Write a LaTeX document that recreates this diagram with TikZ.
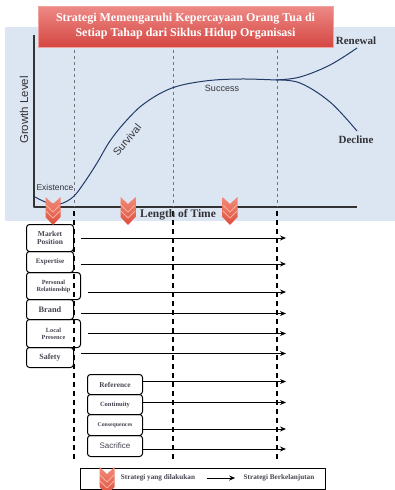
\documentclass[tikz,border=0pt]{standalone}
\usepackage{fontspec}
\setmainfont{Liberation Serif}
\setsansfont{Liberation Sans}
\usetikzlibrary{arrows.meta,shadows}
\definecolor{bgblue}{RGB}{220,230,242}
\definecolor{curveblue}{RGB}{33,58,102}
\definecolor{titletop}{RGB}{238,138,134}
\definecolor{titlebot}{RGB}{212,70,66}
\definecolor{chevtop}{RGB}{242,140,120}
\definecolor{chevbot}{RGB}{222,78,60}
\definecolor{chevline}{RGB}{248,176,158}
\definecolor{boxtext}{RGB}{68,68,80}
\definecolor{labeltext}{RGB}{50,50,55}
\tikzset{
  stratbox/.style={draw, line width=1pt, rounded corners=3pt, anchor=north west, align=center, inner sep=1pt, font=\bfseries, text=boxtext},
  contarrow/.style={-{Stealth[length=6pt,width=5pt]}, line width=1pt},
  stageline/.style={black!55, dashed, line width=0.7pt},
  stagecut/.style={black, line width=1.3pt, dash pattern=on 5pt off 4pt},
  chevmark/.pic={
    \shade[top color=chevtop, bottom color=chevbot] (-7.5,0) -- (0,7) -- (7.5,0) -- (7.5,20) -- (0,28) -- (-7.5,20) -- cycle;
    \draw[chevline, line width=0.9pt] (-7,8) -- (0,15) -- (7,8) (-7,14) -- (0,21) -- (7,14);
  }
}
\begin{document}
\begin{tikzpicture}[x=1pt, y=-1pt, line join=round, >=Stealth]
\useasboundingbox (0,0) rectangle (395,490);
% background of the life cycle chart
\fill[bgblue] (5,27) rectangle (395,221);
% axes
\coordinate (origin) at (34,207);
\coordinate (ytop) at (34,35);
\coordinate (xend) at (357,207);
\draw[black!80, line width=1.2pt] (ytop) -- (origin) -- (xend);
% stage borders
\coordinate (s1top) at (74,50);
\coordinate (s2top) at (173,50);
\coordinate (s3top) at (277,50);
\coordinate (s1bot) at (74,460);
\coordinate (s2bot) at (173,460);
\coordinate (s3bot) at (277,460);
\draw[stageline] (s1top) -- (s1top |- origin) (s2top) -- (s2top |- origin) (s3top) -- (s3top |- origin);
% growth curve
\draw[curveblue, line width=1pt] plot[smooth, tension=0.6] coordinates {(35,197) (48,203) (60,204) (73,197) (84,183) (97,163) (110,141) (126,121) (145,103) (172,88) (205,81) (240,79) (276,80)};
\draw[curveblue, line width=1pt] plot[smooth, tension=0.6] coordinates {(276,80) (300,77) (330,65) (357,48)};
\draw[curveblue, line width=1pt] plot[smooth, tension=0.6] coordinates {(276,80) (300,83) (330,102) (357,131)};
% labels of the chart
\node[font=\sffamily\fontsize{11.5}{12}\selectfont, text=labeltext, rotate=90] (growth) at (24,110) {Growth Level};
\node[font=\sffamily\fontsize{10.5}{11}\selectfont, text=labeltext, rotate=50] (survival) at (127,140) {Survival};
\node[font=\sffamily\fontsize{9}{10}\selectfont, text=labeltext] (success) at (222,88) {Success};
\node[font=\sffamily\fontsize{8.5}{9}\selectfont, text=labeltext, inner sep=0pt] (existence) at (55,187) {Existence};
\node[font=\bfseries\fontsize{11}{12}\selectfont, text=labeltext] (renewal) at (356,41) {Renewal};
\node[font=\bfseries\fontsize{11}{12}\selectfont, text=labeltext] (decline) at (356,140) {Decline};
% title
\node[draw=titletop!80, top color=titletop, bottom color=titlebot, drop shadow={opacity=0.25, shadow xshift=1pt, shadow yshift=-1pt}, minimum width=295pt, minimum height=41pt, align=center, text=white, font=\bfseries\fontsize{12}{15}\selectfont] (title) at (185.5,26.5) {Strategi Memengaruhi Kepercayaan Orang Tua di\\Setiap Tahap dari Siklus Hidup Organisasi};
% strategies
\node[stratbox, minimum width=47pt, minimum height=27pt, font=\bfseries\fontsize{7.5}{8.5}\selectfont] (mp) at (26,224) {Market\\Position};
\node[stratbox, minimum width=47pt, minimum height=21pt, font=\bfseries\fontsize{7}{8}\selectfont] (ex) at (26,251) {Expertise};
\node[stratbox, minimum width=54pt, minimum height=27pt, font=\bfseries\fontsize{6.3}{7}\selectfont] (pr) at (26,272) {Personal\\Relationship};
\node[stratbox, minimum width=47pt, minimum height=20pt, font=\bfseries\fontsize{8.3}{9}\selectfont] (br) at (26,299) {Brand};
\node[stratbox, minimum width=54pt, minimum height=28pt, font=\bfseries\fontsize{6.3}{7}\selectfont] (lp) at (26,319) {Local\\Presence};
\node[stratbox, minimum width=47pt, minimum height=20pt, font=\bfseries\fontsize{8}{9}\selectfont] (sf) at (26,347) {Safety};
\node[stratbox, minimum width=55pt, minimum height=20pt, font=\bfseries\fontsize{7.3}{8}\selectfont] (ref) at (87,374) {Reference};
\node[stratbox, minimum width=55pt, minimum height=20pt, font=\bfseries\fontsize{6.5}{7}\selectfont] (con) at (87,394) {Continuity};
\node[stratbox, minimum width=55pt, minimum height=21pt, font=\bfseries\fontsize{5.8}{6}\selectfont] (cq) at (87,414) {Consequences};
\node[stratbox, minimum width=55pt, minimum height=21pt, font=\sffamily\fontsize{8}{9}\selectfont] (sac) at (87,435) {Sacrifice};
% stage borders below the axis
\draw[stagecut] (s1top |- 0,211) -- (s1bot) (s2top |- 0,211) -- (s2bot) (s3top |- 0,211) -- (s3bot);
% continuing strategies
\coordinate (tipx) at (286,460);
\draw[contarrow] ([xshift=7pt]mp.east) coordinate (mps) -- (mps -| tipx);
\draw[contarrow] ([xshift=7pt,yshift=-2pt]ex.east) coordinate (exs) -- (exs -| tipx);
\draw[contarrow] ([xshift=7pt,yshift=-6pt]pr.east) coordinate (prs) -- (prs -| tipx);
\draw[contarrow] ([xshift=7pt,yshift=-4pt]br.east) coordinate (brs) -- (brs -| tipx);
\draw[contarrow] ([xshift=7pt]lp.east) coordinate (lps) -- (lps -| tipx);
\draw[contarrow] ([xshift=7pt,yshift=4pt]sf.east) coordinate (sfs) -- (sfs -| tipx);
\draw[contarrow] ([yshift=3pt]ref.east) coordinate (refs) -- (refs -| tipx);
\draw[contarrow] ([yshift=2pt]con.east) coordinate (cons) -- (cons -| tipx);
\draw[contarrow] ([yshift=-4pt]cq.east) coordinate (cqs) -- (cqs -| tipx);
\draw[contarrow] ([yshift=-3pt]sac.east) coordinate (sacs) -- (sacs -| tipx);
% strategies carried out at each stage
\pic at (53,197) {chevmark};
\pic at (128,197) {chevmark};
\pic at (230,197) {chevmark};
\node[font=\bfseries\fontsize{11.5}{12}\selectfont, text=labeltext, inner sep=1pt] (lengthtime) at (178,215) {Length of Time};
% legend
\node[draw, line width=1pt, anchor=north west, minimum width=245pt, minimum height=21pt] (legend) at (80,468) {};
\pic at (107,467) {chevmark};
\node[font=\bfseries\fontsize{7.2}{8}\selectfont, text=boxtext] (legdone) at (158,478) {Strategi yang dilakukan};
\node[font=\bfseries\fontsize{7.2}{8}\selectfont, text=boxtext] (legcont) at (279,478) {Strategi Berkelanjutan};
\draw[contarrow, shorten <=8pt, shorten >=5pt] (legdone.east) -- (legcont.west);
\end{tikzpicture}
\end{document}
